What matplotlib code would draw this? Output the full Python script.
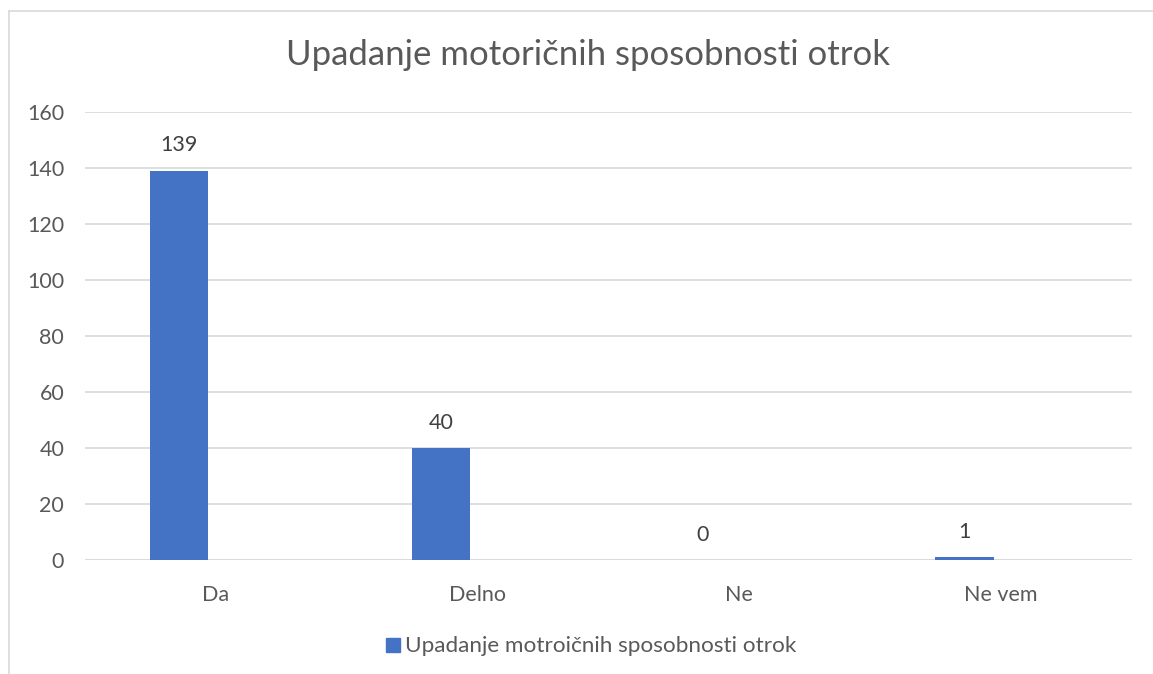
import numpy as np
import matplotlib.pyplot as plt
from matplotlib.patches import Rectangle
from matplotlib.lines import Line2D

categories = ["Da", "Delno", "Ne", "Ne vem"]
values = [139, 40, 0, 1]
series_name = "Upadanje motroičnih sposobnosti otrok"
title = "Upadanje motoričnih sposobnosti otrok"

plt.rcParams["font.family"] = ["Lato", "DejaVu Sans"]
grey = "#595959"

W, H = 1153, 674
fig = plt.figure(figsize=(W / 100, H / 100), dpi=100)
ax = fig.add_axes([85 / W, 1 - 560 / H, (1132 - 85) / W, (560 - 112) / H])

x = np.arange(len(categories))
bars = ax.bar(x - 0.14, values, width=0.222, color="#4472C4", zorder=3)
for b, v in zip(bars, values):
    ax.text(b.get_x() + b.get_width() / 2, v + 5.5, str(v), ha="center", va="bottom",
            fontsize=15.5, color="#404040")

ax.set_xlim(-0.5, len(categories) - 0.5)
ax.set_ylim(0, 160)
ax.set_yticks(np.arange(0, 161, 20))
ax.set_xticks(x)
ax.set_xticklabels(categories)
ax.tick_params(axis="both", length=0, labelsize=15.5, labelcolor=grey)
ax.tick_params(axis="x", pad=18)
ax.tick_params(axis="y", pad=15)
ax.grid(axis="y", color="#D9D9D9", linewidth=1.2, zorder=0)
for s in ax.spines.values():
    s.set_visible(False)
ax.axhline(0, color="#D9D9D9", linewidth=1.2, zorder=2)

fig.text(588 / W, 1 - 55 / H, title, ha="center", va="center", fontsize=25, color=grey)

# outer chart border (left and top visible)
fig.add_artist(Line2D([9 / W, 9 / W], [0, 1 - 11 / H], transform=fig.transFigure,
                      color="#D9D9D9", linewidth=1.2))
fig.add_artist(Line2D([9 / W, 1], [1 - 11 / H, 1 - 11 / H], transform=fig.transFigure,
                      color="#D9D9D9", linewidth=1.2))

# legend
fig.add_artist(Rectangle((386 / W, 1 - 652 / H), 14 / W, 14 / H, transform=fig.transFigure,
                         color="#4472C4"))
fig.text(405 / W, 1 - 646 / H, series_name, ha="left", va="center", fontsize=16.2, color=grey)

fig.savefig("out.png", dpi=100)
